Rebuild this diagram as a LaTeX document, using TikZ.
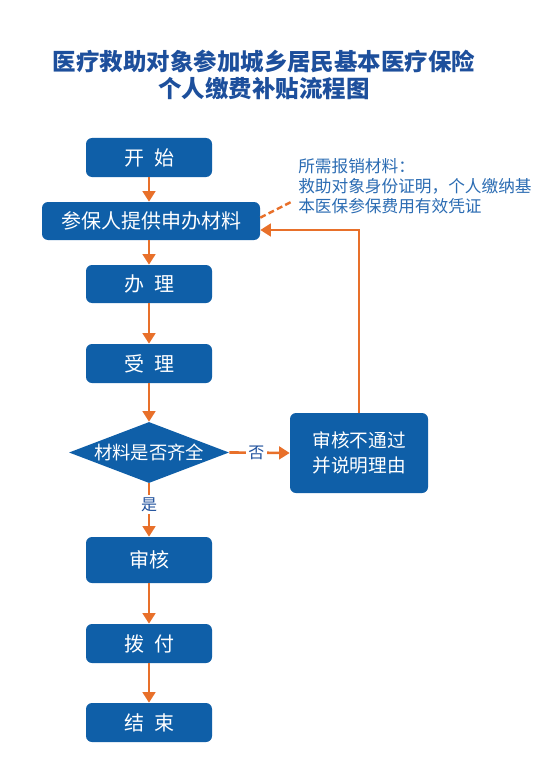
\documentclass[tikz,border=0pt]{standalone}
\usepackage{fontspec}
\setmainfont{Noto Sans CJK SC}
\usetikzlibrary{arrows.meta,shapes.geometric}
\definecolor{boxblue}{HTML}{0F5FA8}
\definecolor{titleblue}{HTML}{1D4F9C}
\definecolor{noteblue}{HTML}{2B6CB3}
\definecolor{flowor}{HTML}{E8702A}
\tikzset{
  stepbox/.style={draw=none, fill=boxblue, rounded corners=4.5pt, text=white,
    minimum width=94.5pt, minimum height=29.25pt, inner sep=0pt,
    font=\fontsize{15pt}{18pt}\selectfont},
  decbox/.style={draw=none, fill=boxblue, shape=diamond, shape aspect=2.6, text=white,
    minimum width=120pt, minimum height=45.75pt, inner sep=0pt,
    font=\fontsize{13.75pt}{16pt}\selectfont},
  flow/.style={draw=flowor, line width=2pt, -{Triangle[width=9.5pt,length=8pt]}},
  lbl/.style={fill=white, text=titleblue, inner sep=2pt, font=\fontsize{12pt}{14pt}\selectfont}
}
\begin{document}
\begin{tikzpicture}[x=0.75pt,y=-0.75pt]
\useasboundingbox[fill=white] (0,0) rectangle (538,770);
\node[text=titleblue, font=\fontsize{17.6pt}{20pt}\selectfont\bfseries, align=center] (title) at (264,75)
  {医疗救助对象参加城乡居民基本医疗保险\\个人缴费补贴流程图};
\node[stepbox] (start) at (149,157.5) {开\hspace{0.5em}始};
\node[stepbox, minimum width=163.5pt, minimum height=28.5pt] (apply) at (151,221) {参保人提供申办材料};
\node[stepbox, minimum height=28.5pt] (handle) at (149,284) {办\hspace{0.5em}理};
\node[stepbox] (accept) at (149,363.5) {受\hspace{0.5em}理};
\node[decbox] (check) at (149,452.5) {材料是否齐全};
\node[stepbox, minimum width=103.5pt, minimum height=60pt, align=center,
  font=\fontsize{14pt}{19pt}\selectfont] (fail) at (359,453) {审核不通过\\并说明理由};
\node[stepbox, minimum height=34.5pt] (review) at (149,560) {审核};
\node[stepbox] (pay) at (149,643.5) {拨\hspace{0.5em}付};
\node[stepbox] (end) at (149,722.5) {结\hspace{0.5em}束};
\node[anchor=north west, align=left, text=noteblue, inner sep=0pt,
  font=\fontsize{12.5pt}{15pt}\selectfont] (note) at (298,158)
  {所需报销材料：\\救助对象身份证明，个人缴纳基\\本医保参保费用有效凭证};
\coordinate (noteend) at (293,201);
\draw[flow] (start) -- (apply.north -| start);
\draw[flow] (apply.south -| handle) -- (handle);
\draw[flow] (handle) -- (accept);
\draw[flow] (accept.south) -- (check.north);
\draw[flow] (check.east) -- node[lbl, pos=0.45]{否} (fail.west);
\draw[flow] (check.south) -- node[lbl, pos=0.4]{是} (review.north);
\draw[flow] (review) -- (pay);
\draw[flow] (pay) -- (end);
\draw[flow] (fail.north) |- ([yshift=-6.75pt]apply.east);
\draw[draw=flowor, line width=1.8pt, dash pattern=on 4.5pt off 2.5pt] ([yshift=2.5pt]apply.east) -- (noteend);
\end{tikzpicture}
\end{document}
